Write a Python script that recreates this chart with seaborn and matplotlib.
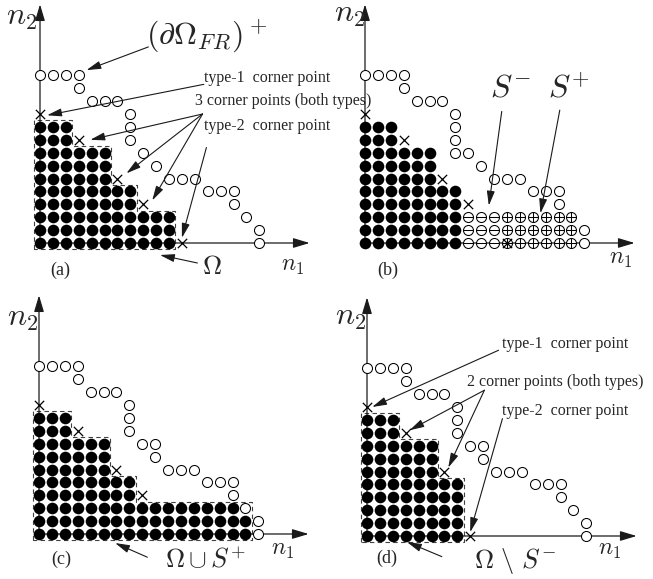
import numpy as np
import pandas as pd
import matplotlib
matplotlib.use('Agg')
import matplotlib.pyplot as plt
import seaborn as sns

# число закрашенных точек в каждой строке (строка 0 - нижняя)
fill_a = [11, 11, 11, 8, 8, 6, 6, 6, 3, 3]
fill_b = [8, 8, 8, 8, 8, 6, 6, 6, 3, 3]
fill_c = [17, 17, 16, 8, 8, 6, 6, 6, 3, 3]
fill_d = [8, 8, 8, 8, 8, 6, 6, 6, 3, 3]

# пунктирный контур области
box_a = [11, 11, 11, 8, 8, 6, 6, 6, 3, 3]
box_c = [17, 17, 17, 8, 8, 6, 6, 6, 3, 3]
box_d = [8, 8, 8, 8, 8, 6, 6, 6, 3, 3]

# пустые кружки (граница)
ring_a_x = [0, 1, 2, 3, 3, 4, 5, 6, 7, 7, 7, 8, 9, 10, 11, 12, 13, 14, 15, 15, 16, 17, 17]
ring_a_y = [13, 13, 13, 13, 12, 11, 11, 11, 10, 9, 8, 7, 6, 5, 5, 5, 4, 4, 4, 3, 2, 1, 0]
ring_b_x = [0, 1, 2, 3, 3, 4, 5, 6, 7, 7, 7, 7, 8, 9, 10, 11, 12, 13, 14, 15, 15, 17, 17]
ring_b_y = [13, 13, 13, 13, 12, 11, 11, 11, 10, 9, 8, 7, 7, 6, 5, 5, 5, 4, 4, 4, 3, 1, 0]
ring_cd_x = [0, 1, 2, 3, 3, 4, 5, 6, 7, 7, 7, 8, 9, 9, 10, 11, 12, 13, 14, 15, 15, 16, 17, 17]
ring_cd_y = [13, 13, 13, 13, 12, 11, 11, 11, 10, 9, 8, 7, 7, 6, 5, 5, 5, 4, 4, 4, 3, 2, 1, 0]

# угловые точки
corner_ab_x = [0, 3, 6, 8, 11]
corner_ab_y = [10, 8, 5, 3, 0]
corner_c_x = [0, 3, 6, 8]
corner_c_y = [10, 8, 5, 3]
corner_d_x = [0, 3, 6, 8]
corner_d_y = [10, 8, 5, 0]

# S- и S+ на панели (b)
s_minus_cols = [8, 9, 10]
s_plus_cols = [11, 12, 13, 14, 15, 16]
s_rows = [0, 1, 2]

sns.set_theme(style='white')
plt.rcParams['font.family'] = ['Liberation Serif', 'DejaVu Serif']
plt.rcParams['mathtext.fontset'] = 'cm'

U = 12.9  # пикселей на шаг решётки
FW, FH = 653, 579
X_END, Y_END = 20.9, 18.5
TXT = 11.5

axis_arrow = dict(arrowstyle='-|>,head_length=1.0,head_width=0.3', color='k', lw=0.9,
                  shrinkA=0, shrinkB=0, mutation_scale=10)
lead_arrow = dict(arrowstyle='-|>,head_length=1.1,head_width=0.3', color='k', lw=0.8,
                  shrinkA=0, shrinkB=0, mutation_scale=8)


def cells(lengths):
    xs, ys = [], []
    for j, n in enumerate(lengths):
        xs += list(range(n))
        ys += [j] * n
    return pd.DataFrame({'n1': xs, 'n2': ys})


def outline(lengths):
    xs = [-0.5, -0.5]
    ys = [-0.5, len(lengths) - 0.5]
    for j in range(len(lengths) - 1, -1, -1):
        x = lengths[j] - 0.5
        xs += [x, x]
        ys += [j + 0.5, j - 0.5]
    xs.append(-0.5)
    ys.append(-0.5)
    return xs, ys


def make_axes(x0, y0, ox, oy, W=326.5, H=289.5):
    ax = plt.gcf().add_axes([x0 / FW, 1 - (y0 + H) / FH, W / FW, H / FH])
    ax.set_xlim(-ox / U, (W - ox) / U)
    ax.set_ylim(-(H - oy) / U, oy / U)
    ax.annotate('', xy=(X_END, 0), xytext=(0, 0), arrowprops=axis_arrow)
    ax.annotate('', xy=(0, Y_END), xytext=(0, 0), arrowprops=axis_arrow)
    return ax


def dots(ax, lengths):
    sns.scatterplot(data=cells(lengths), x='n1', y='n2', ax=ax, color='black', s=70,
                    linewidth=0, legend=False, zorder=3)


def rings(ax, xs, ys):
    sns.scatterplot(x=xs, y=ys, ax=ax, marker='o', s=52, facecolor='white',
                    edgecolor='black', linewidth=0.75, legend=False, zorder=3)


def crosses(ax, xs, ys):
    sns.scatterplot(x=xs, y=ys, ax=ax, marker='x', s=45, color='black',
                    linewidth=0.9, legend=False, zorder=5)


def box(ax, lengths):
    bx, by = outline(lengths)
    ax.plot(bx, by, ls=(0, (4, 3)), color='0.25', lw=0.8, zorder=2)


def finish(ax, tag, n1pos, n2pos):
    ax.text(*n1pos, '$n_1$', fontsize=17, ha='center', va='center')
    ax.text(*n2pos, '$n_2$', fontsize=23, ha='center', va='center')
    ax.text(tag[0], tag[1], tag[2], fontsize=13, ha='center', va='center')
    ax.set_xlabel('')
    ax.set_ylabel('')
    ax.axis('off')


fig = plt.figure(figsize=(FW / 100, FH / 100), dpi=100)

# (a)
ax = make_axes(0, 0, 40, 243)
box(ax, box_a)
dots(ax, fill_a)
rings(ax, ring_a_x, ring_a_y)
crosses(ax, corner_ab_x, corner_ab_y)
ax.text(12.9, 16.0, r'$(\partial\Omega_{FR})^+$', fontsize=23, ha='center', va='center')
ax.annotate('', xy=(3.6, 13.4), xytext=(8.4, 15.2), arrowprops=lead_arrow)
ax.text(12.7, 12.8, 'type-1  corner point', fontsize=TXT, ha='left', va='center', clip_on=False)
ax.annotate('', xy=(0.55, 9.9), xytext=(12.7, 12.3), arrowprops=lead_arrow)
ax.text(12.0, 11.0, '3 corner points (both types)', fontsize=TXT, ha='left', va='center', clip_on=False)
for tip in [(3.9, 8.0), (6.7, 5.4), (8.7, 3.3)]:
    ax.annotate('', xy=tip, xytext=(12.6, 10.0), arrowprops=lead_arrow)
ax.text(12.7, 9.1, 'type-2  corner point', fontsize=TXT, ha='left', va='center', clip_on=False)
ax.annotate('', xy=(11.0, 0.4), xytext=(12.9, 7.4), arrowprops=lead_arrow)
ax.text(13.3, -1.9, r'$\Omega$', fontsize=19, ha='center', va='center')
ax.annotate('', xy=(9.3, -0.93), xytext=(12.2, -1.55), arrowprops=lead_arrow)
finish(ax, (1.6, -2.1, '(a)'), (19.6, -1.8), (-1.4, 17.5))

# (b)
ax = make_axes(326.5, 0, 38.5, 243)
dots(ax, fill_b)
rings(ax, ring_b_x, ring_b_y)
sx = [c for r in s_rows for c in s_minus_cols]
sy = [r for r in s_rows for c in s_minus_cols]
px = [c for r in s_rows for c in s_plus_cols]
py = [r for r in s_rows for c in s_plus_cols]
rings(ax, sx + px, sy + py)
sns.scatterplot(x=sx + px, y=sy + py, ax=ax, marker='_', s=52, color='black',
                linewidth=0.75, legend=False, zorder=4)
sns.scatterplot(x=px, y=py, ax=ax, marker='|', s=52, color='black',
                linewidth=0.75, legend=False, zorder=4)
crosses(ax, corner_ab_x, corner_ab_y)
ax.text(11.3, 11.9, '$S^{-}$', fontsize=23, ha='center', va='center')
ax.annotate('', xy=(9.6, 2.9), xytext=(10.6, 10.2), arrowprops=lead_arrow)
ax.text(15.8, 11.9, '$S^{+}$', fontsize=23, ha='center', va='center')
ax.annotate('', xy=(13.6, 2.3), xytext=(15.1, 10.3), arrowprops=lead_arrow)
finish(ax, (1.8, -2.1, '(b)'), (19.8, -1.25), (-1.2, 17.7))

# (c)
ax = make_axes(0, 289.5, 39, 244.5)
box(ax, box_c)
dots(ax, fill_c)
rings(ax, ring_cd_x, ring_cd_y)
crosses(ax, corner_c_x, corner_c_y)
ax.text(12.9, -2.0, r'$\Omega\cup S^{+}$', fontsize=19, ha='center', va='center')
ax.annotate('', xy=(5.9, -0.7), xytext=(8.4, -1.8), arrowprops=lead_arrow)
finish(ax, (1.7, -2.0, '(c)'), (18.9, -1.25), (-1.3, 16.7))

# (d)
ax = make_axes(326.5, 289.5, 40.5, 246.5)
box(ax, box_d)
dots(ax, fill_d)
rings(ax, ring_cd_x, ring_cd_y)
crosses(ax, corner_d_x, corner_d_y)
ax.text(10.5, 14.9, 'type-1  corner point', fontsize=TXT, ha='left', va='center')
ax.annotate('', xy=(0.4, 10.0), xytext=(10.2, 14.4), arrowprops=lead_arrow)
ax.text(7.75, 11.9, '2 corner points (both types)', fontsize=TXT, ha='left', va='center', clip_on=False)
for tip in [(3.3, 8.2), (6.3, 5.3)]:
    ax.annotate('', xy=tip, xytext=(9.1, 11.3), arrowprops=lead_arrow)
ax.text(10.5, 9.7, 'type-2  corner point', fontsize=TXT, ha='left', va='center')
ax.annotate('', xy=(8.0, 0.3), xytext=(10.5, 9.1), arrowprops=lead_arrow)
ax.text(11.5, -1.9, r'$\Omega\ \backslash\ S^{-}$', fontsize=19, ha='center', va='center')
ax.annotate('', xy=(3.1, -0.47), xytext=(5.8, -1.6), arrowprops=lead_arrow)
finish(ax, (1.55, -1.7, '(d)'), (18.8, -1.1), (-1.25, 16.9))

fig.savefig('out.png', dpi=100)
